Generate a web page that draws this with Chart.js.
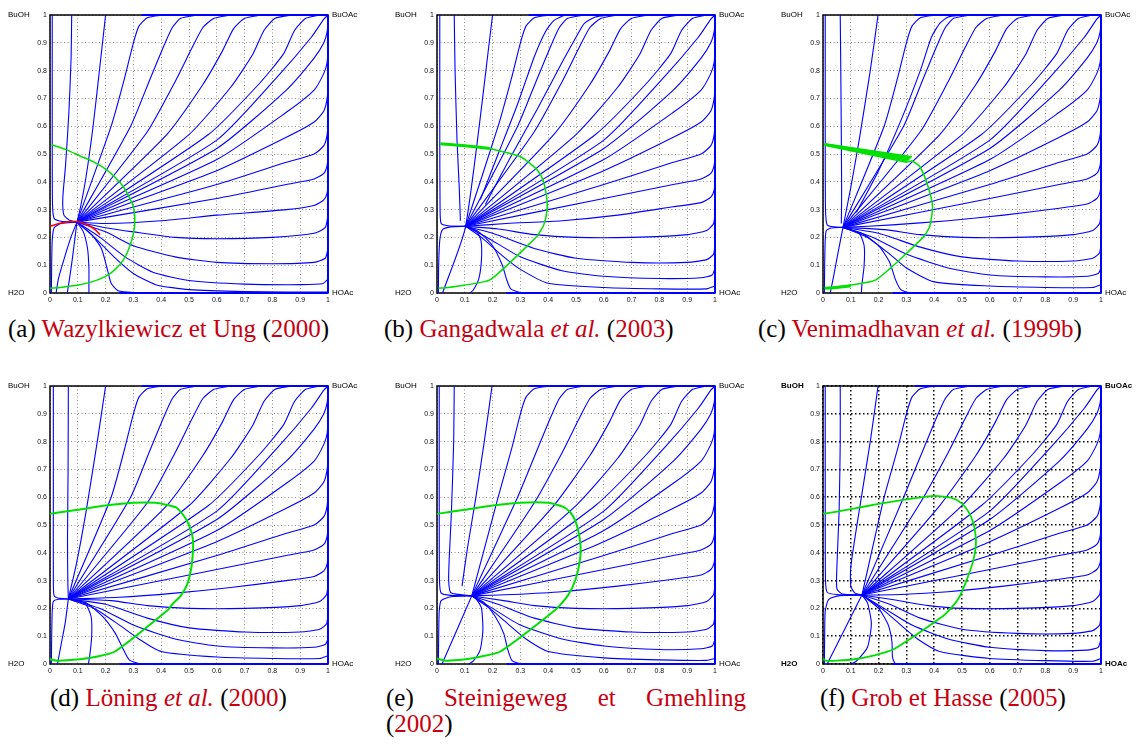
<!DOCTYPE html>
<html><head><meta charset="utf-8">
<script src="https://cdn.jsdelivr.net/npm/chart.js@4.4.0/dist/chart.umd.min.js"></script>
<style>
body{margin:0;width:1136px;height:751px;background:#fff;position:relative;overflow:hidden;font-family:'Liberation Serif',serif}
canvas{position:absolute}
.cap{position:absolute;font-size:25px;line-height:25px;white-space:nowrap;color:#000}
.cap .r{color:#c80010}
</style></head><body>
<canvas id="cA"></canvas><canvas id="cB"></canvas><canvas id="cC"></canvas>
<canvas id="cD"></canvas><canvas id="cE"></canvas><canvas id="cF"></canvas>
<div class="cap" style="left:8px;top:316px">(a) <span class="r">Wazylkiewicz et Ung</span> (<span class="r">2000</span>)</div>
<div class="cap" style="left:384px;top:316px">(b) <span class="r">Gangadwala <i>et al.</i></span> (<span class="r">2003</span>)</div>
<div class="cap" style="left:758px;top:316px">(c) <span class="r">Venimadhavan <i>et al.</i></span> (<span class="r">1999b</span>)</div>
<div class="cap" style="left:50px;top:685px">(d) <span class="r">Löning <i>et al.</i></span> (<span class="r">2000</span>)</div>
<div class="cap" style="left:386px;top:685px;width:360px;display:flex;justify-content:space-between"><span>(e)</span><span class="r">Steinigeweg</span><span class="r">et</span><span class="r">Gmehling</span></div>
<div class="cap" style="left:386px;top:711px">(<span class="r">2002</span>)</div>
<div class="cap" style="left:820px;top:685px">(f) <span class="r">Grob et Hasse</span> (<span class="r">2005</span>)</div>
<script>
const tickValues = [0,0.1,0.2,0.3,0.4,0.5,0.6,0.7,0.8,0.9,1];
const tickLabels = ['0','0.1','0.2','0.3','0.4','0.5','0.6','0.7','0.8','0.9','1'];
const cornerLabels = ['BuOH','BuOAc','H2O','HOAc'];

// far parts of the upper fan of residue curves (they start at each panel's node)
const upperTails = [
 [0.22,0.6, 0.27,0.78, 0.30,0.9, 0.32,0.96, 0.35,0.99, 0.41,1],
 [0.29,0.6, 0.36,0.77, 0.41,0.89, 0.44,0.955, 0.47,0.988, 0.53,1],
 [0.35,0.58, 0.45,0.76, 0.51,0.88, 0.55,0.955, 0.59,0.988, 0.65,1],
 [0.42,0.57, 0.55,0.75, 0.62,0.87, 0.66,0.95, 0.7,0.988, 0.76,1],
 [0.5,0.57, 0.65,0.74, 0.73,0.86, 0.77,0.945, 0.81,0.988, 0.87,1],
 [0.57,0.57, 0.75,0.75, 0.84,0.86, 0.88,0.945, 0.92,0.988, 0.97,1],
 [0.6,0.55, 0.82,0.78, 0.94,0.92, 0.985,0.985, 1,1],
 [0.6,0.52, 0.85,0.73, 0.95,0.845, 0.985,0.9, 0.997,0.94, 1,0.98],
 [0.6,0.48, 0.85,0.65, 0.95,0.73, 0.985,0.79, 0.997,0.83, 1,0.88],
 [0.6,0.44, 0.85,0.56, 0.95,0.615, 0.985,0.655, 0.997,0.7, 1,0.75],
 [0.6,0.39, 0.85,0.47, 0.95,0.5, 0.985,0.53, 0.997,0.57, 1,0.62],
 [0.6,0.34, 0.85,0.39, 0.95,0.41, 0.985,0.43, 0.997,0.46, 1,0.5]
];
const edges = [[0.33,1, 1,1],[1,0, 1,1],[0.25,0, 1,0]];

// ---- (a) Wazylkiewicz et Ung
const nodeA = [0.097,0.255];
const leftA = [
 [0.008,1, 0.008,0.6, 0.009,0.32, 0.015,0.268, 0.04,0.258, 0.097,0.255],
 [0.078,1, 0.076,0.85, 0.068,0.65, 0.056,0.46, 0.046,0.34, 0.05,0.28, 0.07,0.262, 0.097,0.255],
 [0.2,1, 0.18,0.82, 0.155,0.6, 0.13,0.42, 0.11,0.31, 0.097,0.255],
 [0.005,0, 0.006,0.1, 0.008,0.19, 0.015,0.235, 0.04,0.25, 0.097,0.255],
 [0.022,0, 0.03,0.05, 0.05,0.12, 0.075,0.2, 0.097,0.255],
 [0.062,0, 0.07,0.05, 0.08,0.12, 0.09,0.2, 0.097,0.255],
 [0.14,0, 0.14,0.03, 0.14,0.09, 0.135,0.16, 0.12,0.22, 0.097,0.255]
];
const lowerA = [
 [0.097,0.255, 0.15,0.21, 0.185,0.16, 0.205,0.09, 0.22,0.035, 0.245,0.008, 0.3,0.002, 0.45,0],
 [0.097,0.255, 0.16,0.2, 0.23,0.13, 0.3,0.07, 0.38,0.03, 0.5,0.012, 0.7,0.005, 1,0.003],
 [0.097,0.255, 0.18,0.2, 0.27,0.13, 0.37,0.075, 0.5,0.045, 0.7,0.032, 0.9,0.03, 0.98,0.033, 1,0.05],
 [0.097,0.255, 0.2,0.22, 0.3,0.17, 0.45,0.13, 0.6,0.11, 0.8,0.105, 0.95,0.11, 0.99,0.125, 1,0.16],
 [0.097,0.255, 0.2,0.235, 0.3,0.22, 0.45,0.2, 0.6,0.195, 0.8,0.2, 0.95,0.215, 0.99,0.235, 1,0.28],
 [0.097,0.255, 0.2,0.25, 0.4,0.26, 0.6,0.28, 0.85,0.3, 0.95,0.315, 0.985,0.335, 0.997,0.36, 1,0.4]
];
const greenA = [[0.006,0.533, 0.06,0.515, 0.108,0.493, 0.16,0.47, 0.204,0.443, 0.24,0.41, 0.263,0.383, 0.285,0.345, 0.3,0.31, 0.305,0.27, 0.303,0.23, 0.294,0.19, 0.28,0.15, 0.264,0.119, 0.235,0.085, 0.198,0.059, 0.15,0.04, 0.102,0.029, 0.05,0.022, 0,0.017]];
const redA = [0,0.24, 0.04,0.252, 0.097,0.257, 0.13,0.247, 0.16,0.23, 0.18,0.21];

// ---- (b) Gangadwala et al.
const nodeB = [0.103,0.24];
const leftB = [
 [0.01,1, 0.01,0.6, 0.011,0.3, 0.015,0.25, 0.04,0.242, 0.103,0.24],
 [0.062,1, 0.065,0.8, 0.072,0.55, 0.08,0.38, 0.084,0.26],
 [0.2,1, 0.103,0.24, 0.02,0],
 [0.156,0.336, 0.22,0.5, 0.29,0.68, 0.35,0.85, 0.39,0.94, 0.42,0.98, 0.46,1],
 [0.174,0.318, 0.26,0.48, 0.36,0.66, 0.45,0.83, 0.5,0.92, 0.53,0.97, 0.57,0.993, 0.62,1],
 [0.005,0, 0.006,0.1, 0.01,0.19, 0.02,0.228, 0.05,0.238, 0.103,0.24],
 [0.118,0, 0.13,0.01, 0.15,0.05, 0.16,0.12, 0.158,0.19, 0.14,0.225, 0.103,0.24]
];
const lowerB = [
 [0.103,0.24, 0.15,0.22, 0.2,0.17, 0.235,0.1, 0.25,0.05, 0.265,0.015, 0.3,0.002, 0.45,0],
 [0.103,0.24, 0.16,0.2, 0.24,0.13, 0.3,0.085, 0.4,0.035, 0.6,0.02, 0.8,0.015, 0.97,0.015, 1,0.025],
 [0.103,0.24, 0.18,0.2, 0.3,0.13, 0.45,0.08, 0.6,0.06, 0.8,0.052, 0.95,0.055, 0.99,0.065, 1,0.09],
 [0.103,0.24, 0.2,0.215, 0.35,0.16, 0.5,0.125, 0.7,0.11, 0.9,0.11, 0.97,0.12, 0.995,0.14, 1,0.18],
 [0.103,0.24, 0.22,0.23, 0.35,0.21, 0.5,0.2, 0.7,0.2, 0.9,0.21, 0.97,0.225, 0.995,0.25, 1,0.29],
 [0.103,0.24, 0.25,0.25, 0.45,0.26, 0.65,0.28, 0.85,0.31, 0.95,0.325, 0.985,0.345, 0.997,0.37, 1,0.41]
];
const greenB = [
 [0.012,0.537, 0.1,0.53, 0.19,0.52],
 [0.19,0.52, 0.25,0.505, 0.3,0.49, 0.33,0.47, 0.36,0.443, 0.38,0.41, 0.39,0.372, 0.396,0.33, 0.396,0.3, 0.39,0.265, 0.382,0.24, 0.37,0.22, 0.36,0.204, 0.192,0.048, 0.096,0.028, 0.04,0.02, 0.005,0.017]
];
const greenBW = [3,1.5];

// ---- (c) Venimadhavan et al.
const nodeC = [0.072,0.236];
const leftC = [
 [0.008,1, 0.008,0.6, 0.009,0.3, 0.015,0.245, 0.04,0.238, 0.072,0.236],
 [0.062,1, 0.064,0.8, 0.066,0.55, 0.067,0.35, 0.066,0.25],
 [0.198,1, 0.17,0.8, 0.13,0.55, 0.1,0.38, 0.072,0.236],
 [0.12,0.29, 0.2,0.44, 0.28,0.62, 0.35,0.8, 0.39,0.92, 0.42,0.97, 0.45,0.993, 0.5,1],
 [0.005,0, 0.006,0.1, 0.008,0.19, 0.012,0.225, 0.03,0.234, 0.072,0.236],
 [0.026,0, 0.04,0.07, 0.055,0.15, 0.072,0.236],
 [0.138,0, 0.14,0.03, 0.148,0.1, 0.148,0.17, 0.13,0.215, 0.072,0.236]
];
const lowerC = [
 [0.072,0.236, 0.14,0.215, 0.2,0.17, 0.24,0.11, 0.26,0.05, 0.28,0.012, 0.31,0.002, 0.45,0],
 [0.072,0.236, 0.16,0.2, 0.24,0.14, 0.3,0.09, 0.4,0.04, 0.6,0.025, 0.8,0.02, 0.97,0.02, 1,0.03],
 [0.072,0.236, 0.18,0.2, 0.3,0.14, 0.45,0.09, 0.6,0.065, 0.8,0.058, 0.95,0.06, 0.99,0.07, 1,0.09],
 [0.072,0.236, 0.2,0.215, 0.35,0.165, 0.5,0.13, 0.7,0.115, 0.9,0.115, 0.97,0.125, 0.995,0.145, 1,0.18],
 [0.072,0.236, 0.22,0.228, 0.35,0.21, 0.5,0.2, 0.7,0.2, 0.9,0.21, 0.97,0.225, 0.995,0.25, 1,0.29],
 [0.072,0.236, 0.25,0.245, 0.45,0.26, 0.65,0.28, 0.85,0.305, 0.95,0.32, 0.985,0.34, 0.997,0.365, 1,0.4]
];
const greenC = [
 [0.006,0.537, 0.32,0.49],
 [0.006,0.536, 0.316,0.486],
 [0.006,0.535, 0.312,0.482],
 [0.006,0.534, 0.308,0.478],
 [0.006,0.533, 0.304,0.474],
 [0.006,0.532, 0.3,0.47],
 [0.3,0.47, 0.32,0.475, 0.348,0.455, 0.378,0.383, 0.394,0.311, 0.384,0.24, 0.36,0.2, 0.192,0.048, 0.108,0.03, 0.05,0.022, 0.006,0.017],
 [0.006,0.017, 0.05,0.02, 0.1,0.026]
];
const greenCW = [1.6,1.6,1.6,1.6,1.6,1.6,1.5,3];

// ---- (d) Löning et al.
const nodeD = [0.066,0.234];
const leftD = [
 [0.012,1, 0.012,0.6, 0.012,0.3, 0.015,0.245, 0.035,0.236, 0.066,0.234],
 [0.066,1, 0.065,0.7, 0.063,0.45, 0.064,0.3, 0.066,0.234],
 [0.2,1, 0.17,0.8, 0.13,0.55, 0.095,0.36, 0.066,0.234],
 [0.005,0, 0.006,0.1, 0.008,0.19, 0.012,0.225, 0.03,0.233, 0.066,0.234],
 [0.027,0, 0.04,0.07, 0.055,0.15, 0.066,0.234],
 [0.138,0, 0.143,0.03, 0.15,0.1, 0.148,0.17, 0.125,0.22, 0.066,0.234]
];
const lowerD = [
 [0.066,0.234, 0.13,0.22, 0.19,0.17, 0.235,0.11, 0.26,0.06, 0.285,0.015, 0.32,0.002, 0.45,0],
 [0.066,0.234, 0.16,0.2, 0.25,0.14, 0.32,0.09, 0.4,0.045, 0.6,0.025, 0.8,0.02, 0.97,0.02, 1,0.03],
 [0.066,0.234, 0.18,0.2, 0.3,0.14, 0.45,0.09, 0.6,0.065, 0.8,0.058, 0.95,0.06, 0.99,0.07, 1,0.09],
 [0.066,0.234, 0.2,0.215, 0.35,0.165, 0.5,0.13, 0.7,0.115, 0.9,0.115, 0.97,0.125, 0.995,0.145, 1,0.18],
 [0.066,0.234, 0.22,0.228, 0.35,0.21, 0.5,0.2, 0.7,0.2, 0.9,0.21, 0.97,0.225, 0.995,0.25, 1,0.29],
 [0.066,0.234, 0.25,0.24, 0.45,0.255, 0.65,0.275, 0.85,0.3, 0.95,0.315, 0.985,0.335, 0.997,0.36, 1,0.4]
];
const greenD = [[0,0.54, 0.05,0.548, 0.1,0.555, 0.2,0.57, 0.3,0.58, 0.38,0.58, 0.43,0.57, 0.455,0.562, 0.48,0.535, 0.497,0.506, 0.51,0.47, 0.515,0.434, 0.513,0.39, 0.509,0.35, 0.495,0.29, 0.47,0.245, 0.44,0.215, 0.425,0.195, 0.234,0.045, 0.16,0.025, 0.096,0.016, 0.03,0.012, 0.005,0.015, 0,0.02]];

// ---- (e) Steinigeweg et Gmehling
const nodeE = [0.125,0.245];
const leftE = [
 [0.008,1, 0.008,0.6, 0.009,0.3, 0.015,0.255, 0.05,0.247, 0.125,0.245],
 [0.062,1, 0.06,0.8, 0.052,0.55, 0.044,0.38, 0.042,0.3, 0.05,0.256, 0.125,0.245],
 [0.198,1, 0.17,0.8, 0.14,0.6, 0.11,0.42, 0.09,0.28],
 [0.005,0, 0.006,0.1, 0.008,0.19, 0.015,0.228, 0.05,0.242, 0.125,0.245],
 [0.018,0, 0.125,0.245],
 [0.114,0, 0.13,0.01, 0.155,0.05, 0.165,0.12, 0.16,0.2, 0.14,0.235, 0.125,0.245]
];
const lowerE = [
 [0.125,0.245, 0.17,0.22, 0.21,0.17, 0.24,0.11, 0.255,0.05, 0.27,0.012, 0.3,0.002, 0.45,0],
 [0.125,0.245, 0.19,0.2, 0.26,0.14, 0.32,0.09, 0.4,0.045, 0.6,0.022, 0.8,0.015, 0.97,0.013, 1,0.02],
 [0.125,0.245, 0.2,0.2, 0.3,0.14, 0.45,0.09, 0.6,0.065, 0.8,0.052, 0.95,0.055, 0.99,0.065, 1,0.09],
 [0.125,0.245, 0.22,0.215, 0.35,0.165, 0.5,0.13, 0.7,0.115, 0.9,0.115, 0.97,0.125, 0.995,0.145, 1,0.18],
 [0.125,0.245, 0.24,0.228, 0.35,0.21, 0.5,0.2, 0.7,0.2, 0.9,0.21, 0.97,0.225, 0.995,0.25, 1,0.29],
 [0.125,0.245, 0.27,0.25, 0.45,0.26, 0.65,0.28, 0.85,0.305, 0.95,0.32, 0.985,0.34, 0.997,0.365, 1,0.4]
];
const greenE = [[0,0.54, 0.1,0.555, 0.2,0.57, 0.3,0.58, 0.4,0.58, 0.454,0.565, 0.48,0.545, 0.498,0.514, 0.51,0.47, 0.516,0.43, 0.515,0.38, 0.498,0.303, 0.47,0.245, 0.426,0.195, 0.228,0.045, 0.15,0.025, 0.096,0.016, 0.03,0.012, 0,0.02]];

// ---- (f) Grob et Hasse
const nodeF = [0.14,0.248];
const leftF = [
 [0.008,1, 0.008,0.6, 0.009,0.3, 0.015,0.258, 0.05,0.25, 0.14,0.248],
 [0.062,1, 0.062,0.8, 0.058,0.55, 0.05,0.35, 0.05,0.27, 0.07,0.252, 0.14,0.248],
 [0.198,1, 0.17,0.8, 0.13,0.55, 0.1,0.35, 0.1,0.28, 0.115,0.255, 0.14,0.248],
 [0.005,0, 0.006,0.1, 0.008,0.19, 0.02,0.232, 0.06,0.246, 0.14,0.248],
 [0.015,0, 0.14,0.248],
 [0.102,0, 0.12,0.01, 0.16,0.06, 0.174,0.146, 0.16,0.22, 0.14,0.248]
];
const lowerF = [
 [0.14,0.248, 0.2,0.2, 0.235,0.14, 0.248,0.08, 0.25,0.025, 0.26,0.003, 0.35,0, 0.5,0],
 [0.14,0.248, 0.21,0.2, 0.28,0.14, 0.34,0.09, 0.42,0.045, 0.6,0.02, 0.8,0.012, 0.97,0.01, 1,0.02],
 [0.14,0.248, 0.22,0.2, 0.32,0.14, 0.45,0.09, 0.6,0.06, 0.8,0.048, 0.95,0.05, 0.99,0.06, 1,0.09],
 [0.14,0.248, 0.24,0.215, 0.35,0.165, 0.5,0.125, 0.7,0.11, 0.9,0.11, 0.97,0.12, 0.995,0.14, 1,0.18],
 [0.14,0.248, 0.26,0.23, 0.38,0.21, 0.5,0.2, 0.7,0.2, 0.9,0.21, 0.97,0.225, 0.995,0.25, 1,0.29],
 [0.14,0.248, 0.28,0.25, 0.45,0.26, 0.65,0.28, 0.85,0.305, 0.95,0.32, 0.985,0.34, 0.997,0.365, 1,0.4]
];
const greenF = [[0,0.54, 0.1,0.557, 0.2,0.576, 0.3,0.592, 0.4,0.605, 0.468,0.596, 0.5,0.577, 0.522,0.55, 0.54,0.51, 0.548,0.47, 0.55,0.43, 0.54,0.37, 0.516,0.3, 0.49,0.24, 0.46,0.2, 0.432,0.173, 0.252,0.052, 0.18,0.03, 0.12,0.018, 0.05,0.012, 0.01,0.012, 0,0.02]];

function pts(a){const p=[];for(let i=0;i<a.length;i+=2)p.push({x:a[i],y:a[i+1]});return p;}
const BLUE='#0000ff', GREEN='#00e000', RED='#ff0000';

const panels = [
 {id:'cA',cx:0,cy:0,w:376,node:nodeA,left:leftA,lower:lowerA,green:greenA,gw:[1.5],red:redA,f:false},
 {id:'cB',cx:387,cy:0,w:376,node:nodeB,left:leftB,lower:lowerB,green:greenB,gw:greenBW,f:false},
 {id:'cC',cx:773,cy:0,w:363,node:nodeC,left:leftC,lower:lowerC,green:greenC,gw:greenCW,f:false},
 {id:'cD',cx:0,cy:371,w:376,node:nodeD,left:leftD,lower:lowerD,green:greenD,gw:[2],f:false},
 {id:'cE',cx:387,cy:371,w:376,node:nodeE,left:leftE,lower:lowerE,green:greenE,gw:[2],f:false},
 {id:'cF',cx:773,cy:371,w:363,node:nodeF,left:leftF,lower:lowerF,green:greenF,gw:[1.8],f:true}
];

const framePlugin = {
 id:'frame',
 beforeDatasetsDraw(chart){
  const a=chart.chartArea, c=chart.ctx;
  c.save(); c.strokeStyle='#000'; c.lineWidth=1.5; c.strokeRect(a.left,a.top,a.right-a.left,a.bottom-a.top); c.restore();
 },
 afterDraw(chart){
  const xs=chart.scales.x, ys=chart.scales.y, c=chart.ctx, bold=chart.options.plugins.frame.bold;
  c.save(); c.fillStyle='#000'; c.textBaseline='middle';
  c.font=(bold?'bold ':'')+'8px "Liberation Sans", Arial, sans-serif';
  const x0=xs.getPixelForValue(0), x1=xs.getPixelForValue(1), y0=ys.getPixelForValue(0), y1=ys.getPixelForValue(1);
  c.textAlign='left';
  c.fillText(cornerLabels[0], x0-42, y1);
  c.fillText(cornerLabels[2], x0-42, y0);
  c.fillText(cornerLabels[1], x1+4, y1);
  c.fillText(cornerLabels[3], x1+4, y0);
  c.restore();
 }
};

panels.forEach(p=>{
 const cv=document.getElementById(p.id);
 cv.width=p.w; cv.height=310; cv.style.left=p.cx+'px'; cv.style.top=p.cy+'px';
 const ds=[];
 const line=(a,color,w)=>ds.push({data:pts(a),showLine:true,borderColor:color,borderWidth:w,pointRadius:0,fill:false,clip:4});
 if(p.red) line(p.red,RED,1.6);
 p.green.forEach((g,i)=>line(g,GREEN,p.gw[i]||1.5));
 p.left.forEach(a=>line(a,BLUE,1.1));
 p.lower.forEach(a=>line(a,BLUE,1.1));
 upperTails.forEach(t=>line(p.node.concat(t),BLUE,1.1));
 edges.forEach(e=>line(e,BLUE,2));
 const gridColor = p.f ? '#000' : 'rgba(0,0,0,0.45)';
 const gridW = p.f ? 1.5 : 1;
 const dash = p.f ? [1.5,2.5] : [1,2.5];
 const axis = (isX)=>({
  type:'linear',min:0,max:1,
  afterBuildTicks:s=>{s.ticks=tickValues.map(v=>({value:v}));},
  afterFit:s=>{ if(isX) s.height=17; else s.width=50; },
  ticks:{callback:(v,i)=>tickLabels[i],font:{family:'"Liberation Sans", Arial, sans-serif',size:7},color:'#111',padding:3,maxRotation:0,autoSkip:false},
  grid:{color:gridColor,lineWidth:gridW,drawTicks:false},
  border:{display:false,dash:dash}
 });
 new Chart(cv,{type:'scatter',data:{datasets:ds},plugins:[framePlugin],options:{
  responsive:false,animation:false,devicePixelRatio:1,
  layout:{padding:{left:0,top:15,right:p.w-50-278,bottom:0}},
  elements:{line:{tension:0.2}},
  plugins:{legend:{display:false},tooltip:{enabled:false},frame:{bold:p.f}},
  scales:{x:axis(true),y:axis(false)}
 }});
});
</script>
</body></html>
